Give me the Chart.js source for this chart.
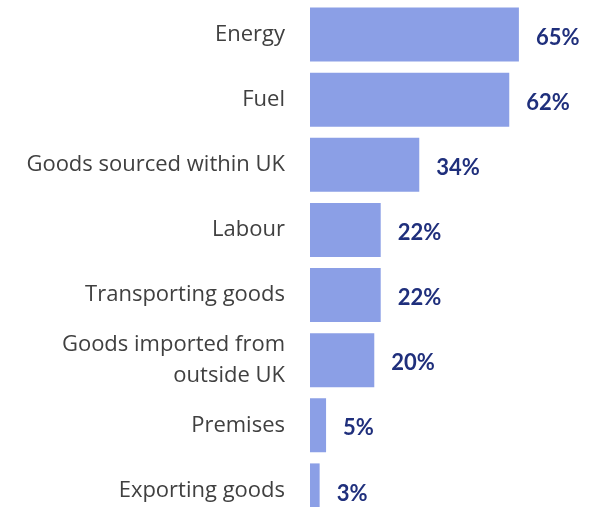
<!DOCTYPE html>
<html>
<head>
<meta charset="utf-8">
<script src="https://cdn.jsdelivr.net/npm/chart.js@4"></script>
<style>
  html, body { margin: 0; padding: 0; background: #fff; overflow: hidden; }
  #wrap { position: relative; width: 597px; height: 523px; }
</style>
</head>
<body>
<div id="wrap"><canvas id="costs"></canvas></div>
<script>
const categories = [
  'Energy',
  'Fuel',
  'Goods sourced within UK',
  'Labour',
  'Transporting goods',
  ['Goods imported from', 'outside UK'],
  'Premises',
  'Exporting goods'
];
const shares = [65, 62, 34, 22, 22, 20, 5, 3];

const barColour = '#8b9fe6';
const valueColour = '#1f2f7c';
const categoryFont = "'Open Sans', sans-serif";
const valueFont = "Lato, 'Open Sans', sans-serif";

// percentage labels just past the end of each bar
const valueLabels = {
  id: 'valueLabels',
  afterDatasetsDraw(chart) {
    const ctx = chart.ctx;
    const meta = chart.getDatasetMeta(0);
    ctx.save();
    ctx.font = "bold 22px " + valueFont;
    ctx.fillStyle = valueColour;
    ctx.textAlign = 'left';
    ctx.textBaseline = 'middle';
    meta.data.forEach((bar, i) => {
      ctx.fillText(shares[i] + '%', bar.x + 17, bar.y + 3);
    });
    ctx.restore();
  }
};

new Chart(document.getElementById('costs'), {
  type: 'bar',
  data: {
    labels: categories,
    datasets: [{
      data: shares,
      backgroundColor: barColour,
      borderWidth: 0,
      categoryPercentage: 0.83,
      barPercentage: 1
    }]
  },
  options: {
    indexAxis: 'y',
    responsive: true,
    maintainAspectRatio: false,
    animation: false,
    layout: { padding: { top: 2, right: 0, bottom: 0, left: 0 } },
    plugins: { legend: { display: false }, tooltip: { enabled: false } },
    scales: {
      x: {
        display: false,
        min: 0,
        max: 89.3
      },
      y: {
        afterFit(axis) {
          axis.width = 310;
          // no extra room above/below for the tall two-line label
          axis.paddingTop = 0;
          axis.paddingBottom = 0;
        },
        grid: { display: false, drawTicks: false },
        border: { display: false },
        ticks: {
          padding: 25,
          color: '#404040',
          font: { family: categoryFont, size: 22, lineHeight: 1.4 }
        }
      }
    }
  },
  plugins: [valueLabels]
});
</script>
</body>
</html>
